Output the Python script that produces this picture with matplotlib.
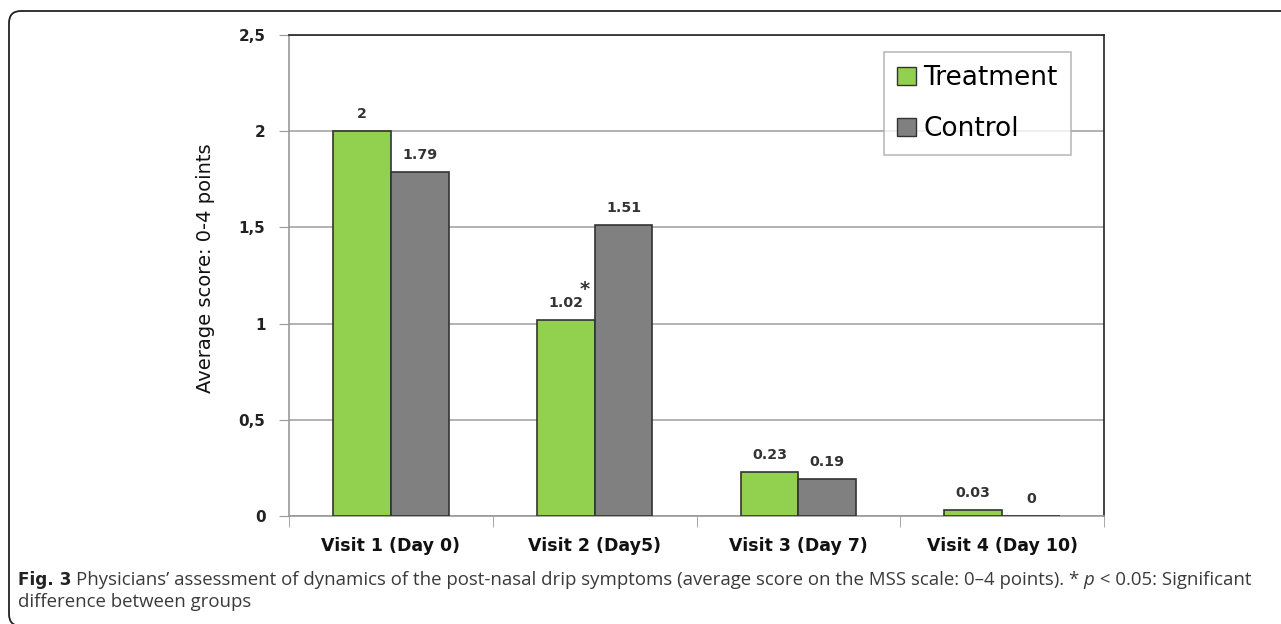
import matplotlib
matplotlib.use("Agg")
import matplotlib.pyplot as plt
from matplotlib.patches import FancyBboxPatch, Patch
import matplotlib.transforms as mtransforms
import numpy as np

categories = ["Visit 1 (Day 0)", "Visit 2 (Day5)", "Visit 3 (Day 7)", "Visit 4 (Day 10)"]
treatment = [2.0, 1.02, 0.23, 0.03]
control = [1.79, 1.51, 0.19, 0.0]
treat_labels = ["2", "1.02", "0.23", "0.03"]
ctrl_labels = ["1.79", "1.51", "0.19", "0"]
yticks = [0, 0.5, 1, 1.5, 2, 2.5]
ytick_labels = ["0", "0,5", "1", "1,5", "2", "2,5"]

W, H = 1281, 624
fig = plt.figure(figsize=(W / 100, H / 100), dpi=100)

# rounded frame (cut off at right and bottom like the reference)
frame = FancyBboxPatch((9, -2), 1300, 615, boxstyle="round,pad=0,rounding_size=12",
                       transform=None, fill=False, edgecolor="#222222", linewidth=1.3)
fig.patches.append(frame)

L, R, T, B = 289, 1104, 35, 516
ax = fig.add_axes([L / W, (H - B) / H, (R - L) / W, (B - T) / H])

x = np.arange(len(categories))
bw = 0.284
green = "#92D050"
gray = "#808080"
ax.bar(x - bw / 2, treatment, bw, color=green, edgecolor="#333333", linewidth=1.2, zorder=3)
ax.bar(x + bw / 2, control, bw, color=gray, edgecolor="#333333", linewidth=1.2, zorder=3)

off = mtransforms.offset_copy(ax.transData, fig=fig, x=0, y=10, units="dots")
lab_kw = dict(ha="center", va="bottom", fontsize=10.2, fontweight="bold", color="#333333", transform=off)
for xi, v, s in zip(x, treatment, treat_labels):
    ax.text(xi - bw / 2, v, s, **lab_kw)
for xi, v, s in zip(x, control, ctrl_labels):
    ax.text(xi + bw / 2, v, s, **lab_kw)
# asterisk for significance
ax.text(1 - bw / 2 + 0.095, treatment[1], "*",
        transform=mtransforms.offset_copy(ax.transData, fig=fig, x=0, y=21, units="dots"),
        ha="center", va="bottom", fontsize=14, fontweight="bold", color="#333333")

ax.set_xlim(-0.5, 3.5)
ax.set_ylim(0, 2.5)
ax.set_yticks(yticks)
ax.set_yticklabels(ytick_labels, fontsize=11, fontweight="bold", color="#222222")
ax.set_xticks(x)
ax.set_xticklabels(categories, fontsize=12.5, fontweight="bold", color="#111111")
ax.set_xticks(np.arange(-0.5, 4, 1), minor=True)
ax.tick_params(axis="x", which="major", length=0, pad=15)
ax.tick_params(axis="x", which="minor", length=8, color="#999999", direction="out")
ax.tick_params(axis="y", length=7, color="#999999", direction="out", pad=10)
ax.yaxis.grid(True, color="#a6a6a6", linewidth=1.2, zorder=0)
ax.set_axisbelow(True)
for s in ["left", "bottom"]:
    ax.spines[s].set_color("#999999")
    ax.spines[s].set_linewidth(1.2)
for s in ["top", "right"]:
    ax.spines[s].set_color("#222222")
    ax.spines[s].set_linewidth(1.2)

ax.set_ylabel("Average score: 0-4 points", fontsize=14, color="#111111")
ax.yaxis.set_label_coords(-0.0905, 0.515)

handles = [Patch(facecolor=green, edgecolor="#333333", label="Treatment"),
           Patch(facecolor=gray, edgecolor="#333333", label="Control")]
leg = fig.legend(handles=handles, loc="upper left",
                 bbox_to_anchor=(884 / W, (H - 52) / H), fontsize=19,
                 frameon=True, fancybox=False, edgecolor="#aaaaaa",
                 handlelength=0.7, handleheight=0.7, handletextpad=0.3,
                 labelspacing=0.95, borderpad=0.5, borderaxespad=0)
leg.get_frame().set_linewidth(1.2)

# caption
cap_y1 = (H - 580) / H
cap_y2 = (H - 602) / H
fs = 13.4
fam = "Open Sans"
ccol = "#3a3a3a"
t1 = fig.text(18 / W, cap_y1, "Fig. 3", fontsize=12.2, fontweight="bold", family="DejaVu Sans", va="center", color="#222222")
fig.canvas.draw()
r = fig.canvas.get_renderer()
bb = t1.get_window_extent(r)
t2 = fig.text((bb.x1 + 4) / W, cap_y1,
              "Physicians\u2019 assessment of dynamics of the post-nasal drip symptoms (average score on the MSS scale: 0\u20134 points). * ",
              fontsize=fs, family=fam, va="center", color=ccol)
bb = t2.get_window_extent(r)
t3 = fig.text(bb.x1 / W, cap_y1, "p", fontsize=fs, family=fam, style="italic", va="center", color=ccol)
bb = t3.get_window_extent(r)
fig.text((bb.x1 + 1) / W, cap_y1, " < 0.05: Significant", fontsize=fs, family=fam, va="center", color=ccol)
fig.text(18 / W, cap_y2, "difference between groups", fontsize=fs, family=fam, va="center", color=ccol)

fig.savefig("out.png", dpi=100)
